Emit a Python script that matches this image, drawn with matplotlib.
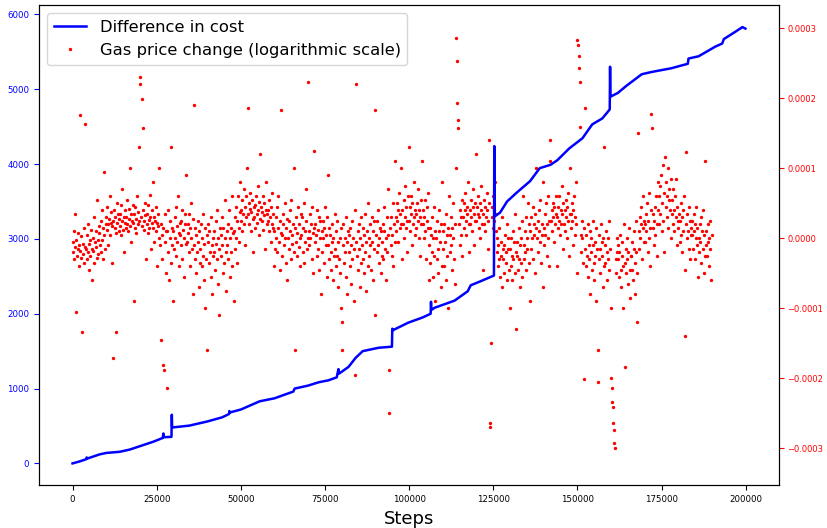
import matplotlib.pyplot as plt
import numpy as np

# Difference in cost (left axis) at its turning points
cost_steps = [
    0, 2000, 4000, 4200, 4400, 8000, 10000, 14000, 17000, 20000, 24000,
    26800, 27000, 27100, 29400, 29500, 29600, 34700, 40000, 44400, 46500,
    46600, 46700, 50000, 55600, 60000, 65600, 66000, 70000, 73200, 76000,
    78500, 79000, 79200, 82000, 84100, 86200, 90900, 94900, 95000, 95200,
    99700, 104000, 106400, 106500, 106600, 107600, 113500, 117400, 118300,
    121000, 125200, 125300, 125400, 127000, 129100, 132000, 135900, 138800,
    142000, 144000, 147600, 151500, 154400, 157400, 159600, 159700, 159800,
    162000, 164400, 169100, 172000, 177900, 182800, 183000, 186000, 191000,
    193000, 193500, 197000, 199000, 199900,
]
cost_diff = [
    0, 25, 55, 80, 65, 120, 140, 155, 185, 230, 290,
    340, 400, 350, 355, 650, 480, 505, 560, 615, 660,
    700, 680, 720, 830, 870, 960, 1000, 1040, 1085, 1110,
    1150, 1260, 1200, 1290, 1410, 1500, 1545, 1560, 1800, 1780,
    1880, 1950, 2000, 2160, 2050, 2080, 2175, 2300, 2380,
    2430, 2510, 4240, 3300, 3350, 3500, 3620, 3770, 3945,
    3990, 4050, 4210, 4345, 4530, 4610, 4730, 5300, 4900,
    4950, 5040, 5200, 5230, 5280, 5340, 5410, 5440, 5570,
    5610, 5670, 5770, 5830, 5810,
]

# Gas price change (right axis), in units of 1e-6, 12 samples per 2000 steps
gas_change_e6 = [
    -5, -20, 10, -30, -13, 35, -106, -2, -25, -15, 8, -40,
    -10, -18, 176, -28, 3, -134, -22, -8, 15, -35, 164, -12,
    -15, 5, -30, -20, 20, -8, -45, -2, -25, 12, -60, -16,
    0, -18, 30, -35, -5, 10, -12, 55, -28, -3, -22, 18,
    8, -10, 25, -20, 40, -2, 15, -30, 95, 5, -15, 20,
    30, 12, 45, 20, -10, 28, 60, 5, 22, 38, -35, 18,
    25, -171, 40, 15, 30, 8, -134, 22, 50, 35, 10, 28,
    18, 35, 5, 48, 25, 70, 12, 30, -20, 22, 40, 15,
    30, 20, 55, 10, 28, 42, 100, 18, 35, -5, 25, 48,
    22, -90, 35, 15, 45, 28, 8, 60, 20, 38, 130, 25,
    230, 221, 30, 199, 18, 157, 40, 25, 12, 50, 33, -30,
    20, 35, 8, 48, 26, 15, 62, 30, -15, 22, 40, 80,
    15, 30, -5, 25, 45, 10, 22, -40, 35, 18, 0, 100,
    -10, 20, -146, 5, -30, -181, 15, -189, 35, -5, -50, 10,
    -214, 10, -20, 40, -60, 0, 25, -35, 130, -10, 15, -90,
    10, -15, 30, 0, 45, -25, 18, -5, 60, 8, -40, 22,
    5, 25, -10, 40, -30, 12, 0, -55, 20, 35, -8, 90,
    -5, 20, 8, -20, 35, -40, 15, 0, 50, -15, 28, -80,
    190, -10, 15, -30, 5, -50, -20, 25, -5, -70, 10, -35,
    -15, 20, -40, 0, -25, 35, -60, -8, 15, -100, -30, 5,
    -160, -5, 20, -35, 10, -20, -55, 30, -10, -80, 0, -25,
    -20, 10, -45, 25, -8, -30, 40, -65, 0, -15, -110, 15,
    5, -25, 30, -10, -50, 15, -35, 0, 55, -20, -75, 10,
    -10, 20, -30, 40, 0, -55, 15, -20, 60, -40, 8, -90,
    10, 30, -15, 45, 0, 25, -35, 60, 15, -5, 38, 80,
    40, 25, 55, 10, 35, 70, 20, 45, -10, 30, 60, 100,
    186, 35, 50, 20, 42, 65, 10, 38, 55, 28, -20, 45,
    30, 48, 15, 60, 35, 22, 75, 40, 5, 52, 120, 28,
    45, 25, 38, 60, 12, 33, 50, -15, 40, 80, 20, 35,
    25, 40, 10, 55, 30, -5, 45, 20, 65, 15, 35, -40,
    10, -15, 30, 0, 45, -20, 15, 60, -5, 25, -45, 8,
    184, 5, -25, 20, 35, -10, 0, 50, -35, 15, 28, -60,
    0, 25, -15, 40, 10, -30, 55, 5, -8, 20, 100, -20,
    -159, 15, -5, 30, -25, 8, 45, -12, 20, -40, 0, 35,
    5, 30, -20, 15, 50, -35, 10, -5, 25, 70, -15, 0,
    223, 10, -10, 35, 0, 20, -30, 45, 8, -50, 15, 125,
    -5, 20, 5, -25, 40, 12, -15, 30, -45, 0, 25, -80,
    10, -20, 25, 0, -35, 15, 45, -10, 5, -55, 30, 90,
    -10, 15, -30, 5, -45, -20, 20, -5, -60, 0, -25, 35,
    -15, -40, 10, -25, 25, -5, -70, -30, 0, -50, 15, -100,
    -160, -120, -10, 20, -35, 0, -20, 30, -55, -5, -80, 10,
    -20, 5, -40, 15, -10, -65, 25, -30, 0, -15, -90, 40,
    -196, 221, -5, -25, 10, -45, 20, -15, -70, 0, -35, 30,
    -10, 15, -30, -50, 5, -20, 35, -5, -75, 10, -40, 50,
    0, -25, 20, -10, -45, 30, -5, 10, -60, 25, -15, -110,
    183, 5, -20, 25, -10, 40, -35, 0, 15, -50, 10, -25,
    -5, 20, -30, 10, 45, -15, 0, -60, 30, -20, 70, 5,
    -250, -189, 15, -10, 30, -25, 5, 50, -40, 20, -5, 110,
    30, 10, 50, 25, -5, 40, 65, 15, 35, 100, 20, -30,
    40, 20, 55, 0, 30, 75, 15, 45, 25, -20, 60, 130,
    25, 45, 10, 60, 35, -10, 50, 20, 80, 30, 5, 40,
    35, 15, 50, 25, 70, 0, 40, -25, 30, 55, 20, 110,
    20, 40, 0, 30, 55, 10, -30, 45, 25, 65, 15, -60,
    -10, 15, -35, 5, 30, -20, -55, 0, 45, -25, 10, -90,
    0, -30, 25, -15, -50, 10, 40, -5, -70, 20, -40, 80,
    -15, 10, -40, 20, -5, -60, 35, -25, 5, -100, 15, 60,
    5, -20, 30, -10, 15, -45, 0, 50, -30, 20, -65, 100,
    286, 253, 194, 169, 157, 20, -10, 40, 5, 30, -25, 55,
    30, 50, 15, 40, 65, 25, 5, 45, 35, 80, 20, -20,
    40, 20, 55, 30, 10, 45, 70, 35, -10, 50, 25, 120,
    25, 45, 35, 60, 15, 30, 50, 0, 40, 75, 20, -45,
    35, 55, 20, 45, 10, 30, 65, 40, 25, -15, 50, 140,
    -264, -270, -150, 30, 45, 15, 60, 25, 40, 80, 10, 35,
    -20, 0, -40, -10, 15, -30, -55, -5, -25, 30, -70, -15,
    -30, -10, -50, 5, -20, -35, 20, -60, -15, 0, -45, -100,
    -15, -40, 0, -25, -60, 10, -30, -5, 35, -50, -20, -130,
    -25, -5, -45, 15, -30, -10, -70, 0, -35, 25, -55, 60,
    -10, -30, 10, -20, 30, -45, 0, -15, 50, -35, 20, -90,
    10, -15, 30, 0, 45, -30, 20, 5, -50, 35, 15, 100,
    0, 25, -20, 40, 10, -5, 55, -35, 20, 5, 80, -70,
    15, -10, 35, 5, 50, -25, 20, 0, 60, -40, 25, 110,
    141, 25, 40, 10, 50, 30, -5, 45, 20, 60, 35, -40,
    30, 15, 45, 25, 60, 5, 40, 20, 75, 35, -15, 50,
    20, 40, 10, 55, 30, 0, 45, 25, 65, -25, 35, 100,
    35, 15, 50, 25, -10, 40, 60, 5, 30, 80, 20, -50,
    283, 276, 261, 243, 223, 159, 5, -20, 25, 0, -35, 15,
    -201, 186, -15, -40, 5, -25, 20, -55, -10, -30, 10, -80,
    -20, 0, -45, -10, 25, -35, -60, -5, -25, 15, -90, -15,
    -160, -206, -30, 5, -15, -50, 20, -25, -5, -70, 0, -40,
    131, -10, -35, 10, -20, -60, 0, -30, 25, -45, -15, -100,
    -200, -214, -234, -241, -264, -274, -293, -300, -30, -50, 0, -20,
    -30, -10, -55, -20, 5, -45, -70, -25, -5, -40, -100, 20,
    -184, -35, -15, -50, 0, -30, -65, -20, 15, -45, -85, -25,
    -25, -45, -5, -60, -15, 10, -35, -80, -20, 25, -50, -120,
    150, 10, -15, 30, 0, 45, 20, -30, 15, 60, -5, 25,
    20, -5, 35, 10, 50, -20, 25, 0, 65, 15, -40, 40,
    177, 157, 15, 35, -10, 25, 45, 5, 60, -25, 20, 80,
    40, 60, 20, 75, 35, 90, 10, 50, 105, 25, 65, -20,
    116, 45, 80, 30, 60, 100, 15, 55, 70, 40, 0, 85,
    35, 55, 20, 70, 40, 10, 60, 30, 85, -10, 45, 25,
    15, 35, -5, 25, 50, 5, 30, -20, 40, 10, 60, -45,
    -140, 124, 20, 0, 35, 10, -15, 45, 25, -30, 15, 5,
    5, 25, -15, 35, 10, -30, 20, 0, 45, -10, 15, -55,
    0, -20, 20, -5, 30, -35, 10, -15, 40, -50, 5, -25,
    111, -10, 10, -25, 20, -5, -40, 0, 25, -15, -60, 5,
]
gas_sample_every = 2000 / 12  # steps between two gas price samples


def make_figure():
    gas_change = np.array(gas_change_e6) * 1e-6
    gas_steps = np.arange(len(gas_change)) * gas_sample_every

    fig, ax = plt.subplots(figsize=(8.27, 5.28), dpi=100)
    fig.subplots_adjust(left=0.047, right=0.942, top=0.99, bottom=0.081)
    ax2 = ax.twinx()

    # red dots on the twin axis, blue line drawn above them
    l2 = ax2.plot(gas_steps, gas_change, ".", color="red", markersize=2.8,
                  linestyle="none", label="Gas price change (logarithmic scale)")
    l1 = ax.plot(cost_steps, cost_diff, color="blue", linewidth=1.8,
                 label="Difference in cost")
    ax.set_zorder(ax2.get_zorder() + 1)
    ax.patch.set_visible(False)

    ax2.set_ylim(-3.53e-4, 3.33e-4)
    ax.set_xlabel("Steps", fontsize=13)
    ax.tick_params(axis="y", colors="blue", labelsize=6.2)
    ax.tick_params(axis="x", labelsize=6.2)
    ax2.tick_params(axis="y", colors="red", labelsize=6.0, pad=2.5)

    lines = l1 + l2
    ax.legend(lines, [l.get_label() for l in lines], loc="upper left", fontsize=11.8)

    plt.savefig("out.png", dpi=100)


if __name__ == "__main__":
    make_figure()
